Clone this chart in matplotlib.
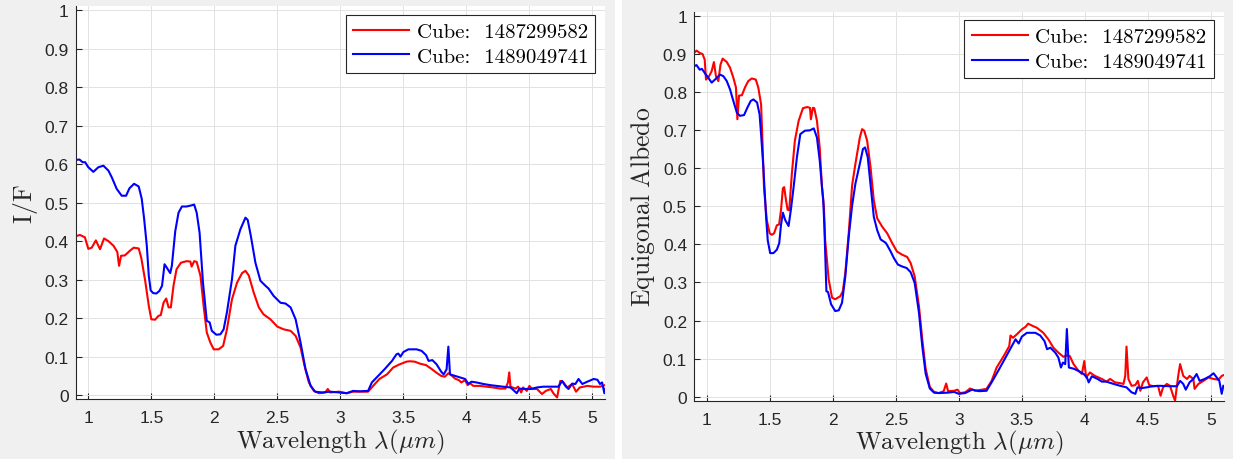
import matplotlib
matplotlib.use("Agg")
import matplotlib.pyplot as plt
from matplotlib.patches import Rectangle
from matplotlib.ticker import FormatStrFormatter

plt.rcParams["mathtext.fontset"] = "cm"
plt.rcParams["font.family"] = ["Liberation Sans", "DejaVu Sans"]

CUBE_A = "1487299582"
CUBE_B = "1489049741"

# I/F spectra
wl_if_a = [0.90, 0.934, 0.973, 1.0, 1.027, 1.06, 1.093, 1.125, 1.16, 1.2,
           1.23, 1.244, 1.26, 1.29, 1.33, 1.36, 1.40, 1.42, 1.45, 1.48,
           1.50, 1.53, 1.557, 1.575, 1.597, 1.618, 1.637, 1.655, 1.676, 1.70,
           1.735, 1.78, 1.81, 1.82, 1.84, 1.86, 1.89, 1.915, 1.94, 1.968,
           1.995, 2.034, 2.07, 2.10, 2.14, 2.18, 2.22, 2.247, 2.273, 2.313,
           2.353, 2.39, 2.445, 2.50, 2.55, 2.605, 2.645, 2.684, 2.716, 2.75,
           2.79, 2.83, 2.88, 2.90, 2.92, 2.99, 3.05, 3.10, 3.15, 3.22,
           3.26, 3.31, 3.37, 3.42, 3.47, 3.525, 3.55, 3.59, 3.63, 3.68,
           3.72, 3.76, 3.80, 3.83, 3.857, 3.88, 3.91, 3.94, 3.96, 3.99,
           4.01, 4.03, 4.055, 4.11, 4.16, 4.21, 4.27, 4.31, 4.33, 4.34,
           4.35, 4.39, 4.41, 4.435, 4.45, 4.48, 4.50, 4.52, 4.56, 4.60,
           4.63, 4.67, 4.69, 4.72, 4.745, 4.77, 4.80, 4.84, 4.87, 4.90,
           4.96, 5.01, 5.06, 5.10]
if_a = [0.413, 0.416, 0.41, 0.38, 0.383, 0.402, 0.379, 0.407, 0.40, 0.388,
        0.372, 0.336, 0.362, 0.363, 0.375, 0.383, 0.381, 0.357, 0.30, 0.232,
        0.197, 0.196, 0.206, 0.208, 0.24, 0.251, 0.228, 0.228, 0.284, 0.327,
        0.344, 0.348, 0.347, 0.334, 0.348, 0.346, 0.31, 0.232, 0.163, 0.137,
        0.119, 0.119, 0.128, 0.171, 0.249, 0.292, 0.317, 0.323, 0.311, 0.266,
        0.228, 0.21, 0.197, 0.178, 0.171, 0.167, 0.154, 0.124, 0.076, 0.033,
        0.011, 0.005, 0.007, 0.016, 0.007, 0.009, 0.005, 0.009, 0.009, 0.009,
        0.024, 0.042, 0.054, 0.072, 0.08, 0.087, 0.088, 0.087, 0.082, 0.078,
        0.069, 0.059, 0.05, 0.048, 0.057, 0.052, 0.043, 0.039, 0.033, 0.039,
        0.026, 0.031, 0.024, 0.024, 0.022, 0.02, 0.017, 0.017, 0.033, 0.059,
        0.022, 0.017, 0.022, 0.007, 0.02, 0.011, 0.024, 0.016, 0.016, 0.003,
        0.011, 0.016, 0.005, -0.006, 0.037, 0.033, 0.02, 0.029, 0.009, 0.02,
        0.024, 0.022, 0.022, 0.026]

wl_if_b = [0.90, 0.93, 0.955, 0.975, 1.0, 1.04, 1.08, 1.12, 1.16, 1.186,
           1.225, 1.265, 1.30, 1.326, 1.363, 1.40, 1.424, 1.443, 1.464, 1.48,
           1.495, 1.515, 1.54, 1.565, 1.585, 1.605, 1.623, 1.65, 1.663, 1.69,
           1.716, 1.743, 1.78, 1.82, 1.84, 1.86, 1.883, 1.91, 1.94, 1.963,
           1.98, 2.016, 2.048, 2.074, 2.10, 2.14, 2.167, 2.207, 2.247, 2.265,
           2.29, 2.326, 2.366, 2.406, 2.43, 2.47, 2.525, 2.565, 2.605, 2.645,
           2.684, 2.724, 2.764, 2.80, 2.856, 2.92, 2.99, 3.05, 3.10, 3.15,
           3.22, 3.25, 3.30, 3.35, 3.41, 3.445, 3.46, 3.477, 3.50, 3.54,
           3.605, 3.645, 3.68, 3.70, 3.73, 3.764, 3.80, 3.82, 3.843, 3.857,
           3.87, 3.91, 3.95, 3.99, 4.016, 4.04, 4.08, 4.135, 4.19, 4.24,
           4.29, 4.35, 4.38, 4.40, 4.42, 4.455, 4.51, 4.56, 4.61, 4.68,
           4.73, 4.76, 4.785, 4.81, 4.84, 4.865, 4.89, 4.92, 4.96, 5.01,
           5.04, 5.06, 5.077, 5.095, 5.11]
if_b = [0.611, 0.612, 0.605, 0.605, 0.592, 0.58, 0.592, 0.596, 0.583, 0.566,
        0.536, 0.518, 0.518, 0.537, 0.549, 0.542, 0.51, 0.458, 0.389, 0.31,
        0.272, 0.265, 0.264, 0.271, 0.284, 0.34, 0.331, 0.317, 0.336, 0.426,
        0.474, 0.49, 0.49, 0.493, 0.495, 0.474, 0.422, 0.292, 0.193, 0.189,
        0.167, 0.157, 0.158, 0.171, 0.215, 0.301, 0.388, 0.431, 0.461, 0.455,
        0.413, 0.344, 0.297, 0.284, 0.277, 0.258, 0.24, 0.238, 0.228, 0.197,
        0.137, 0.067, 0.024, 0.009, 0.007, 0.009, 0.007, 0.005, 0.011, 0.01,
        0.011, 0.033, 0.05, 0.067, 0.089, 0.106, 0.108, 0.10, 0.112, 0.119,
        0.119, 0.115, 0.104, 0.089, 0.091, 0.08, 0.061, 0.054, 0.067, 0.126,
        0.054, 0.05, 0.046, 0.042, 0.029, 0.035, 0.033, 0.029, 0.026, 0.024,
        0.022, 0.02, 0.011, 0.005, 0.017, 0.016, 0.016, 0.02, 0.022, 0.022,
        0.022, 0.037, 0.024, 0.016, 0.03, 0.029, 0.042, 0.029, 0.035, 0.042,
        0.04, 0.029, 0.033, 0.005, 0.024]

# equigonal albedo spectra
wl_alb_a = [0.90, 0.92, 0.945, 0.968, 0.985, 0.995, 1.02, 1.04, 1.058, 1.074,
            1.093, 1.11, 1.127, 1.16, 1.186, 1.212, 1.233, 1.244, 1.257, 1.28,
            1.305, 1.33, 1.358, 1.39, 1.41, 1.432, 1.442, 1.455, 1.477, 1.50,
            1.517, 1.535, 1.557, 1.575, 1.59, 1.605, 1.615, 1.63, 1.642, 1.655,
            1.676, 1.70, 1.73, 1.764, 1.796, 1.82, 1.827, 1.843, 1.854, 1.875,
            1.897, 1.915, 1.93, 1.94, 1.968, 1.995, 2.02, 2.06, 2.08, 2.10,
            2.127, 2.154, 2.18, 2.215, 2.233, 2.25, 2.273, 2.30, 2.326, 2.353,
            2.393, 2.432, 2.472, 2.51, 2.55, 2.59, 2.618, 2.65, 2.684, 2.71,
            2.737, 2.77, 2.804, 2.84, 2.88, 2.90, 2.915, 2.963, 2.99, 3.01,
            3.05, 3.09, 3.13, 3.185, 3.22, 3.26, 3.30, 3.356, 3.40, 3.41,
            3.43, 3.46, 3.50, 3.53, 3.55, 3.58, 3.62, 3.67, 3.71, 3.75,
            3.79, 3.83, 3.857, 3.88, 3.91, 3.95, 3.976, 3.995, 4.01, 4.04,
            4.08, 4.135, 4.17, 4.20, 4.24, 4.28, 4.306, 4.32, 4.33, 4.345,
            4.37, 4.40, 4.42, 4.44, 4.46, 4.49, 4.51, 4.54, 4.58, 4.60,
            4.62, 4.65, 4.675, 4.70, 4.715, 4.74, 4.755, 4.78, 4.81, 4.83,
            4.86, 4.87, 4.90, 4.94, 4.98, 5.02, 5.06, 5.085, 5.10]
alb_a = [0.902, 0.908, 0.902, 0.899, 0.884, 0.832, 0.841, 0.854, 0.878, 0.841,
         0.828, 0.871, 0.887, 0.878, 0.863, 0.837, 0.811, 0.728, 0.79, 0.791,
         0.812, 0.828, 0.835, 0.832, 0.811, 0.767, 0.68, 0.55, 0.464, 0.429,
         0.425, 0.429, 0.45, 0.452, 0.49, 0.547, 0.55, 0.515, 0.491, 0.489,
         0.585, 0.672, 0.724, 0.757, 0.76, 0.758, 0.728, 0.758, 0.757, 0.724,
         0.654, 0.55, 0.498, 0.412, 0.308, 0.26, 0.256, 0.264, 0.277, 0.325,
         0.429, 0.555, 0.611, 0.68, 0.702, 0.698, 0.672, 0.602, 0.515, 0.468,
         0.446, 0.429, 0.403, 0.381, 0.373, 0.367, 0.351, 0.316, 0.238, 0.152,
         0.074, 0.026, 0.013, 0.01, 0.015, 0.035, 0.015, 0.016, 0.019, 0.01,
         0.012, 0.022, 0.016, 0.019, 0.021, 0.042, 0.077, 0.107, 0.133, 0.161,
         0.155, 0.164, 0.177, 0.184, 0.192, 0.187, 0.181, 0.168, 0.151, 0.129,
         0.116, 0.105, 0.109, 0.107, 0.086, 0.068, 0.06, 0.094, 0.051, 0.064,
         0.055, 0.047, 0.04, 0.047, 0.038, 0.036, 0.034, 0.055, 0.132, 0.047,
         0.029, 0.031, 0.042, 0.016, 0.038, 0.051, 0.031, 0.028, 0.029, 0.003,
         0.025, 0.034, 0.029, 0.003, -0.01, 0.055, 0.086, 0.055, 0.047, 0.055,
         0.047, 0.021, 0.034, 0.042, 0.051, 0.047, 0.045, 0.055, 0.057]

wl_alb_b = [0.90, 0.92, 0.945, 0.963, 0.99, 1.013, 1.04, 1.066, 1.106, 1.133,
            1.16, 1.186, 1.212, 1.24, 1.265, 1.297, 1.324, 1.35, 1.371, 1.40,
            1.42, 1.432, 1.45, 1.472, 1.485, 1.504, 1.53, 1.557, 1.576, 1.59,
            1.605, 1.623, 1.65, 1.668, 1.69, 1.716, 1.743, 1.78, 1.82, 1.85,
            1.875, 1.897, 1.915, 1.925, 1.934, 1.95, 1.963, 1.987, 2.02, 2.048,
            2.074, 2.10, 2.127, 2.154, 2.18, 2.215, 2.24, 2.257, 2.278, 2.305,
            2.326, 2.353, 2.38, 2.42, 2.43, 2.46, 2.485, 2.517, 2.55, 2.586,
            2.618, 2.65, 2.684, 2.71, 2.737, 2.77, 2.804, 2.84, 2.91, 2.963,
            3.0, 3.05, 3.105, 3.16, 3.22, 3.26, 3.317, 3.37, 3.42, 3.45,
            3.475, 3.50, 3.54, 3.607, 3.646, 3.68, 3.70, 3.726, 3.765, 3.79,
            3.81, 3.826, 3.844, 3.857, 3.873, 3.91, 3.95, 3.99, 4.016, 4.03,
            4.055, 4.095, 4.135, 4.17, 4.227, 4.28, 4.33, 4.37, 4.40, 4.417,
            4.45, 4.49, 4.54, 4.596, 4.675, 4.73, 4.755, 4.78, 4.80, 4.83,
            4.86, 4.886, 4.91, 4.95, 4.99, 5.02, 5.045, 5.066, 5.085, 5.098]
alb_b = [0.867, 0.87, 0.858, 0.86, 0.847, 0.837, 0.824, 0.832, 0.845, 0.841,
         0.828, 0.806, 0.776, 0.745, 0.737, 0.739, 0.759, 0.776, 0.78, 0.772,
         0.741, 0.689, 0.602, 0.47, 0.41, 0.377, 0.377, 0.386, 0.403, 0.451,
         0.483, 0.464, 0.448, 0.49, 0.55, 0.628, 0.689, 0.698, 0.699, 0.704,
         0.68, 0.62, 0.55, 0.516, 0.446, 0.277, 0.275, 0.243, 0.225, 0.227,
         0.247, 0.316, 0.42, 0.502, 0.559, 0.611, 0.65, 0.654, 0.628, 0.541,
         0.472, 0.437, 0.413, 0.404, 0.399, 0.381, 0.364, 0.347, 0.342, 0.338,
         0.327, 0.299, 0.221, 0.134, 0.061, 0.022, 0.011, 0.01, 0.011, 0.013,
         0.008, 0.01, 0.019, 0.015, 0.016, 0.038, 0.071, 0.103, 0.133, 0.151,
         0.14, 0.158, 0.168, 0.168, 0.161, 0.146, 0.125, 0.129, 0.116, 0.103,
         0.077, 0.09, 0.086, 0.178, 0.077, 0.074, 0.068, 0.06, 0.051, 0.038,
         0.054, 0.048, 0.04, 0.04, 0.034, 0.029, 0.025, 0.012, 0.008, 0.025,
         0.023, 0.025, 0.028, 0.029, 0.028, 0.028, 0.042, 0.034, 0.019, 0.038,
         0.047, 0.06, 0.042, 0.047, 0.054, 0.062, 0.051, 0.042, 0.008, 0.029]

x_ticks = [1, 1.5, 2, 2.5, 3, 3.5, 4, 4.5, 5]
y_ticks = [0, 0.1, 0.2, 0.3, 0.4, 0.5, 0.6, 0.7, 0.8, 0.9, 1]

W, H = 1233, 460
fig = plt.figure(figsize=(W / 100, H / 100), dpi=100, facecolor="white")
# grey window backgrounds with a white gap between them
fig.patches.append(Rectangle((0, 0), 615 / W, 1, transform=fig.transFigure,
                             facecolor="#f0f0f0", edgecolor="none", zorder=-10))
fig.patches.append(Rectangle((622 / W, 0), 1 - 622 / W, 1, transform=fig.transFigure,
                             facecolor="#f0f0f0", edgecolor="none", zorder=-10))

ax1 = fig.add_axes([75.7 / W, (H - 400) / H, 529.3 / W, 392.7 / H])
ax2 = fig.add_axes([694 / W, (H - 401.7) / H, 529.6 / W, 389 / H])

panels = [
    (ax1, wl_if_a, if_a, wl_if_b, if_b, r"$\mathrm{I/F}$", -0.068),
    (ax2, wl_alb_a, alb_a, wl_alb_b, alb_b, r"$\mathrm{Equigonal\ Albedo}$", -0.07),
]

for ax, xa, ya, xb, yb, ylab, ylab_x in panels:
    ax.set_facecolor("white")
    ax.plot(xa, ya, color="#ff0000", lw=1.5, label="Cube:  " + CUBE_A)
    ax.plot(xb, yb, color="#0000ff", lw=1.5, label="Cube:  " + CUBE_B)
    ax.set_xlim(0.9, 5.1)
    ax.set_ylim(-0.01, 1.01)
    ax.set_xticks(x_ticks)
    ax.set_yticks(y_ticks)
    ax.xaxis.set_major_formatter(FormatStrFormatter("%g"))
    ax.yaxis.set_major_formatter(FormatStrFormatter("%g"))
    ax.grid(True, color="#e2e2e2", lw=0.7)
    ax.set_axisbelow(True)
    for side in ("top", "right"):
        ax.spines[side].set_visible(False)
    for side in ("left", "bottom"):
        ax.spines[side].set_color("#262626")
        ax.spines[side].set_linewidth(0.8)
    ax.tick_params(axis="both", direction="in", length=4, width=0.8,
                   color="#262626", labelcolor="#262626", labelsize=12.5)
    ax.tick_params(axis="x", pad=8)
    ax.tick_params(axis="y", pad=5)
    ax.set_xlabel(r"$\mathrm{Wavelength}\ \lambda(\mu m)$", fontsize=18,
                  color="#262626", labelpad=1)
    ax.set_ylabel(ylab, fontsize=18.5, color="#262626")
    ax.yaxis.set_label_coords(ylab_x, 0.5)
    leg = ax.legend(loc="upper right", bbox_to_anchor=(0.982, 0.978),
                    prop={"family": "cmr10", "size": 15}, fancybox=False,
                    framealpha=1, edgecolor="#262626", handlelength=2.7,
                    handletextpad=0.35, borderpad=0.35, labelspacing=0.3,
                    borderaxespad=0)
    leg.get_frame().set_linewidth(0.8)

fig.savefig("out.png", dpi=100, facecolor=fig.get_facecolor())
